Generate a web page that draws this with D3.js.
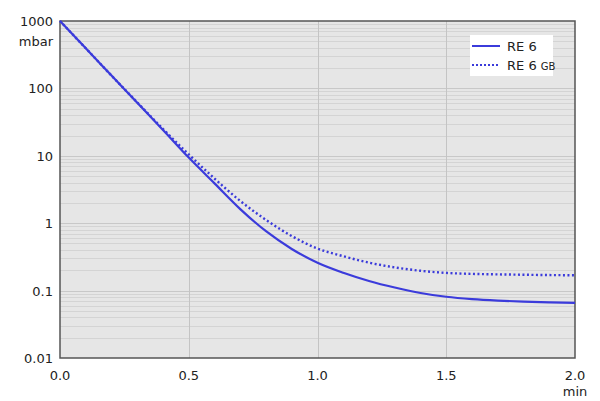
<!DOCTYPE html>
<html><head><meta charset="utf-8">
<script src="https://cdn.jsdelivr.net/npm/d3@7"></script>
<style>body{margin:0;background:#fff;} text{font-family:"DejaVu Sans",sans-serif;}</style>
</head><body>
<svg id="c" width="600" height="401"></svg>
<script>
const times = [0,0.1,0.2,0.3,0.4,0.5,0.6,0.7,0.8,0.9,1.0,1.1,1.2,1.3,1.4,1.5,1.6,1.7,1.8,1.9,2.0];
const re6   = [1000,394,155,61,24.2,9.4,3.9,1.62,0.76,0.415,0.259,0.184,0.139,0.111,0.092,0.081,0.0748,0.0711,0.0687,0.0671,0.0659];
const re6gb = [1000,394,155,62,25,10.5,4.6,2.14,1.12,0.645,0.42,0.324,0.26,0.221,0.197,0.183,0.177,0.174,0.172,0.170,0.169];
const xTicks = [0,0.5,1.0,1.5,2.0];
const yTicks = [1000,100,10,1,0.1,0.01];
const yTickLabels = ["1000","100","10","1","0.1","0.01"];

const svg = d3.select("#c");
const L=60,R=575,T=21,B=358;
const x = d3.scaleLinear().domain([0,2]).range([L,R]);
const y = d3.scaleLog().domain([0.01,1000]).range([B,T]);

svg.append("rect").attr("x",L).attr("y",T).attr("width",R-L).attr("height",B-T).attr("fill","#e6e6e6");
const minor=[];
for(let e=-2;e<3;e++) for(let m=2;m<=9;m++) minor.push(m*Math.pow(10,e));
svg.append("g").selectAll("line").data(minor).join("line")
  .attr("x1",L).attr("x2",R).attr("y1",d=>Math.round(y(d))+0.5).attr("y2",d=>Math.round(y(d))+0.5)
  .attr("stroke","#d4d4d4").attr("stroke-width",1);
svg.append("g").selectAll("line").data(yTicks.slice(1,5)).join("line")
  .attr("x1",L).attr("x2",R).attr("y1",d=>Math.round(y(d))+0.5).attr("y2",d=>Math.round(y(d))+0.5)
  .attr("stroke","#c8c8c8").attr("stroke-width",1);
svg.append("g").selectAll("line").data(xTicks.slice(1,4)).join("line")
  .attr("y1",T).attr("y2",B).attr("x1",d=>Math.round(x(d))+0.5).attr("x2",d=>Math.round(x(d))+0.5)
  .attr("stroke","#c4c4c4").attr("stroke-width",1);
svg.append("rect").attr("x",L).attr("y",T).attr("width",R-L).attr("height",B-T)
  .attr("fill","none").attr("stroke","#555").attr("stroke-width",1.5);

svg.append("g").selectAll("text").data(yTicks).join("text")
  .attr("x",L-7).attr("y",d=>y(d)+5).attr("text-anchor","end")
  .attr("font-size",13).attr("fill","#222").text((d,i)=>yTickLabels[i]);
svg.append("text").attr("x",L-7).attr("y",T+25).attr("text-anchor","end").attr("font-size",13).attr("fill","#222").text("mbar");
svg.append("g").selectAll("text").data(xTicks).join("text")
  .attr("x",d=>x(d)).attr("y",B+22).attr("text-anchor","middle")
  .attr("font-size",13).attr("fill","#222").text(d=>d.toFixed(1));
svg.append("text").attr("x",x(2)).attr("y",B+38).attr("text-anchor","middle").attr("font-size",13).attr("fill","#222").text("min");

const col="#3b3bdb";
const line = d3.line().x((d,i)=>x(times[i])).y(d=>y(d)).curve(d3.curveMonotoneX);
const g = svg.append("g");
g.append("path").attr("d",line(re6gb)).attr("fill","none").attr("stroke",col).attr("stroke-width",2.4).attr("stroke-dasharray","2,2.5");
g.append("path").attr("d",line(re6)).attr("fill","none").attr("stroke",col).attr("stroke-width",2.2);

const lg = svg.append("g");
lg.append("rect").attr("x",470).attr("y",35).attr("width",83).attr("height",41).attr("fill","#fff");
lg.append("line").attr("x1",472).attr("x2",500).attr("y1",46).attr("y2",46).attr("stroke",col).attr("stroke-width",2);
lg.append("line").attr("x1",472).attr("x2",500).attr("y1",65).attr("y2",65).attr("stroke",col).attr("stroke-width",2).attr("stroke-dasharray","2,2");
lg.append("text").attr("x",507).attr("y",51).attr("font-size",13).attr("fill","#222").text("RE 6");
const t2 = lg.append("text").attr("x",507).attr("y",70).attr("font-size",13).attr("fill","#222");
t2.append("tspan").text("RE 6 ");
t2.append("tspan").attr("font-size",10).text("GB");
</script>
</body></html>
